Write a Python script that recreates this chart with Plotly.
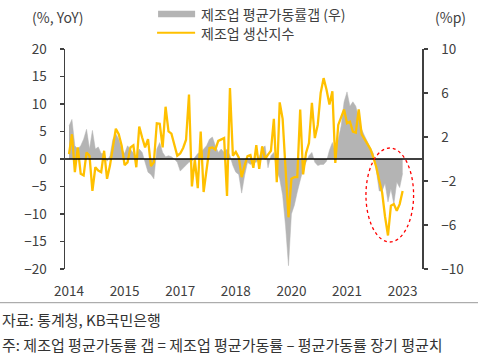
import plotly.graph_objects as go

# ---- data (monthly, 2014-01 .. 2023-07) ----
year_labels = ["2014", "2015", "2017", "2018", "2020", "2021", "2023"]
label_index = [0, 19, 38, 57, 76, 95, 114]

production_yoy = [
    0.9, 4.5, -2.4, 2.1, -2.7, -3.0, 1.2, 0.6, -5.8, -1.5,
    -2.1, -2.4, 1.5, -3.6, -1.2, 2.4, 5.5, 4.5, 2.4, -1.1,
    -0.6, 2.1, 2.5, -1.5, 5.9, 3.9, 2.1, 3.6, -1.3, -0.6,
    6.5, 6.4, 2.1, 9.5, 5.0, 4.6, 2.4, 0.6, 1.0, 2.0,
    3.5, 11.7, -5.0, -0.1, -5.3, 5.0, -6.0, -1.5, 2.0, 2.1,
    1.7, 3.3, 3.5, 3.8, -6.7, 12.9, 0.6, 1.3, 0.3, -3.3,
    -1.2, 0.5, 0.7, -1.6, 2.5, -1.8, 2.3, 0.0, 0.8, 1.5,
    7.3, -4.2, 10.3, 7.3, -1.8, -10.6, -3.6, -3.3, -3.3, 9.0,
    -2.8, 1.1, 2.9, 10.2, 3.8, 6.2, 12.0, 14.7, 12.6, 9.9,
    12.3, -0.7, 6.2, 7.5, 9.0, 6.5, 6.8, 5.0, 4.8, 9.0,
    4.5, 3.6, 2.8, 1.8, 0.3, -1.5, -3.9, -6.1, -10.5, -13.9,
    -8.5, -8.2, -9.4, -8.2, -5.8,
]

utilization_gap = [
    3.0, 3.6, 1.2, 0.9, 1.2, 1.8, 2.7, 0.9, 2.6, 0.9,
    1.1, 0.5, 0.5, -0.2, 0.3, 1.8, 2.3, 1.8, 0.9, 0.5,
    1.2, 0.9, 0.6, 0.2, 0.9, 0.6, -0.3, -1.2, -1.4, -1.8,
    0.9, 1.5, 0.6, 0.2, 0.3, 0.2, 0.0, -0.3, -1.1, -0.8,
    -0.5, -0.3, -0.2, 0.2, 0.5, 0.6, 0.9, 1.2, 1.8, 2.0,
    1.2, 0.6, 0.9, 0.6, 0.9, 0.3, -0.6, -1.2, -1.4, -3.1,
    -1.5, -0.3, -0.5, -0.3, -0.3, 0.2, 0.9, 1.2, -0.8, 0.3,
    0.6, -1.1, -1.8, -3.3, -6.1, -9.7, -5.0, -4.2, -3.0, -1.8,
    -0.9, -0.3, 0.3, 0.6, -0.3, -0.6, -0.5, -0.5, -0.2, 0.8,
    1.5, 0.6, 1.8, 3.0, 5.2, 6.1, 4.8, 5.2, 4.8, 3.6,
    2.7, 2.1, 1.5, 1.0, 0.5, -1.0, -2.9, -2.9, -2.2, -3.9,
    -2.7, -4.1, -2.1, -2.6, -1.3,
]

x_idx = list(range(len(production_yoy)))

# ---- layout geometry (pixels) ----
W, H = 478, 360
L, R, T, B = 65, 421.7, 49.3, 269.3
K = 2.924          # px per month
X0 = 69            # pixel of first month


def px(x):
    return (x - L) / (R - L)


def py(y):
    return (B - y) / (B - T)


FONT = "Noto Sans CJK KR"
TXT = "#404040"
GOLD = "#FFC000"
GREY = "#B4B4B4"

fig = go.Figure()
fig.add_trace(go.Scatter(
    x=x_idx, y=utilization_gap, name="제조업 평균가동률갭 (우)",
    mode="lines", line=dict(color=GREY, width=0.5), fill="tozeroy",
    fillcolor=GREY, yaxis="y", showlegend=False, hoverinfo="skip",
))
fig.add_trace(go.Scatter(
    x=x_idx, y=production_yoy, name="제조업 생산지수",
    mode="lines", line=dict(color=GOLD, width=2.3), yaxis="y2",
    showlegend=False, hoverinfo="skip",
))

xr = [(L - X0) / K, (R - X0) / K]

fig.update_layout(
    width=W, height=H, autosize=False,
    margin=dict(l=L, r=W - R, t=T, b=H - B, pad=0),
    paper_bgcolor="white", plot_bgcolor="white",
    font=dict(family=FONT, size=13.5, color=TXT),
    xaxis=dict(range=xr, tickvals=label_index, ticktext=year_labels,
               showgrid=False, zeroline=False, showline=False, ticks="",
               ticklabelstandoff=12, tickfont=dict(size=13.5, color=TXT)),
    yaxis=dict(side="right", range=[-10, 10], tick0=-10, dtick=4,
               showgrid=False, zeroline=False, showline=True,
               linecolor="#404040", linewidth=1.5, ticks="outside",
               ticklen=4, tickcolor="#404040", tickwidth=1.5,
               ticklabelstandoff=11, tickfont=dict(size=13.5, color=TXT)),
    yaxis2=dict(side="left", overlaying="y", range=[-20, 20], dtick=5,
                showgrid=False, zeroline=False, showline=True,
                linecolor="#404040", linewidth=1.5, ticks="outside",
                ticklen=4, tickcolor="#404040", tickwidth=1.5,
                ticklabelstandoff=10, tickfont=dict(size=13.5, color=TXT)),
)

shapes = [
    # zero line
    dict(type="line", xref="paper", yref="y", x0=0, x1=1, y0=0, y1=0,
         line=dict(color="black", width=1.5), layer="above"),
    # bottom separator
    dict(type="line", xref="paper", yref="paper", x0=px(0), x1=px(W),
         y0=py(303), y1=py(303), line=dict(color="#999999", width=1)),
    # legend swatches
    dict(type="rect", xref="paper", yref="paper", x0=px(158), x1=px(195),
         y0=py(17.5), y1=py(11), fillcolor=GREY, line=dict(width=0)),
    dict(type="line", xref="paper", yref="paper", x0=px(157), x1=px(195),
         y0=py(33), y1=py(33), line=dict(color=GOLD, width=2)),
    # highlight ellipse
    dict(type="circle", xref="x", yref="y2",
         x0=(365.7 - X0) / K, x1=(413.3 - X0) / K,
         y0=(B - 148.3 - (B - T) / 2) / 5.5, y1=(B - 242.3 - (B - T) / 2) / 5.5,
         line=dict(color="#FF0000", width=1.3, dash="dot")),
]
fig.update_layout(shapes=shapes)

ann = [
    dict(text="(%, YoY)", x=px(30), y=py(17), xanchor="left", yanchor="middle"),
    dict(text="(%p)", x=px(433), y=py(17), xanchor="left", yanchor="middle"),
    dict(text="제조업 평균가동률갭 (우)", x=px(199), y=py(14), xanchor="left", yanchor="middle"),
    dict(text="제조업 생산지수", x=px(199), y=py(33), xanchor="left", yanchor="middle"),
    dict(text="자료: 통계청, KB국민은행", x=px(0), y=py(320), xanchor="left", yanchor="middle",
         font=dict(size=15, color="#333333")),
    dict(text="주: 제조업 평균가동률 갭 = 제조업 평균가동률 – 평균가동률 장기 평균치",
         x=px(0), y=py(345), xanchor="left", yanchor="middle",
         font=dict(size=15, color="#333333")),
]
for a in ann:
    a.update(xref="paper", yref="paper", showarrow=False)
    a.setdefault("font", dict(size=14, color=TXT))
fig.update_layout(annotations=ann)

fig.write_html(
    "out.html",
    config={"displayModeBar": False, "staticPlot": True},
    post_script="document.body.style.margin='0';document.body.style.padding='0';",
)
